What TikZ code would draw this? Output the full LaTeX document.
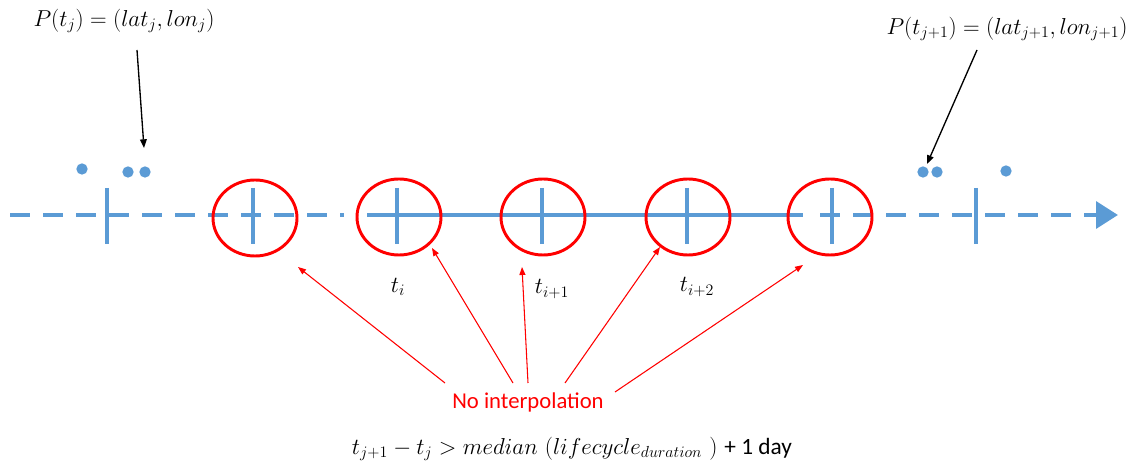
\documentclass[tikz,border=0pt]{standalone}
\usepackage{fontspec}
\newfontfamily\calibrifont{Carlito}
\usetikzlibrary{arrows.meta,shapes.geometric}
\definecolor{axisblue}{HTML}{5B9BD5}
\definecolor{ringred}{HTML}{FF0000}
\begin{document}
\begin{tikzpicture}[x=0.75pt,y=-0.75pt,
  axisline/.style={draw=axisblue, line width=3.4pt},
  dashaxis/.style={axisline, dash pattern=on 15pt off 9.75pt},
  tickmark/.style={draw=axisblue, line width=3.1pt},
  ring/.style={ellipse, draw=ringred, line width=2.2pt, minimum width=63pt, minimum height=57pt, inner sep=0pt},
  dot/.style={circle, fill=axisblue, minimum size=8.5pt, inner sep=0pt},
  mathlbl/.style={font=\fontsize{18}{21}\selectfont, inner sep=0pt},
  condlbl/.style={font=\fontsize{17.5}{21}\selectfont, inner sep=0pt},
  redarrow/.style={draw=ringred, line width=0.8pt, -{Triangle[length=6pt,width=4.5pt]}},
  blackarrow/.style={draw=black, line width=1pt, -{Triangle[length=6.5pt,width=5pt]}}]
\useasboundingbox (0,0) rectangle (1143,466);

% axis
\coordinate (a0) at (10,215);
\coordinate (a1) at (344,215);
\coordinate (a2) at (367,215);
\coordinate (a3) at (803,215);
\coordinate (a4) at (820,215);
\coordinate (a5) at (1118,215);
\draw[dashaxis] (a0) -- (a1);
\draw[axisline] (a2) -- (a3);
\draw[dashaxis, -{Triangle[length=16.5pt,width=20pt]}] (a4) -- (a5);

% ticks
\foreach \x/\n in {107/t0,253/t1,397/t2,542/t3,687/t4,832/t5,976/t6}{
  \coordinate (\n top) at (\x,188);
  \coordinate (\n bot) at (\x,244);
  \draw[tickmark] (\n top) -- (\n bot);
}

% rings
\node[ring] (c1) at (255,218) {};
\node[ring] (c2) at (399,217) {};
\node[ring] (c3) at (543,217) {};
\node[ring] (c4) at (688,217) {};
\node[ring] (c5) at (830,217) {};

% dots
\node[dot] (d1) at (82,169) {};
\node[dot] (d2) at (128,172) {};
\node[dot] (d3) at (145,172) {};
\node[dot] (d4) at (923,172) {};
\node[dot] (d5) at (937,172) {};
\node[dot] (d6) at (1006,171) {};

% position labels
\node[mathlbl] (pj) at (124,21) {$P(t_j) = (lat_j, lon_j)$};
\node[mathlbl] (pj1) at (1007,29) {$P(t_{j+1}) = (lat_{j+1}, lon_{j+1})$};
\coordinate (pjs) at (137,50);
\coordinate (pje) at (144,148);
\coordinate (pj1s) at (977,50);
\coordinate (pj1e) at (927,164);
\draw[blackarrow] (pjs) -- (pje);
\draw[blackarrow] (pj1s) -- (pj1e);

% time labels
\node[mathlbl] (ti) at (398,287) {$t_i$};
\node[mathlbl] (ti1) at (552,289) {$t_{i+1}$};
\node[mathlbl] (ti2) at (697,287) {$t_{i+2}$};

% no interpolation
\node[font=\calibrifont\fontsize{17}{20}\selectfont, text=ringred, inner sep=0pt] (ni) at (528,402) {No interpolation};
\coordinate (s1) at (445,383);
\coordinate (s2) at (513,383);
\coordinate (s3) at (528,383);
\coordinate (s4) at (565,383);
\coordinate (s5) at (615,392);
\coordinate (e1) at (298,267);
\coordinate (e2) at (432,248);
\coordinate (e3) at (522,267);
\coordinate (e4) at (660,247);
\coordinate (e5) at (803,265);
\foreach \i in {1,...,5}{\draw[redarrow] (s\i) -- (e\i);}

% condition
\node[condlbl] (cond) at (572,449) {$t_{j+1} - t_j > median\ (lifecycle_{duration}\ )$ {\calibrifont + 1 day}};
\end{tikzpicture}
\end{document}
